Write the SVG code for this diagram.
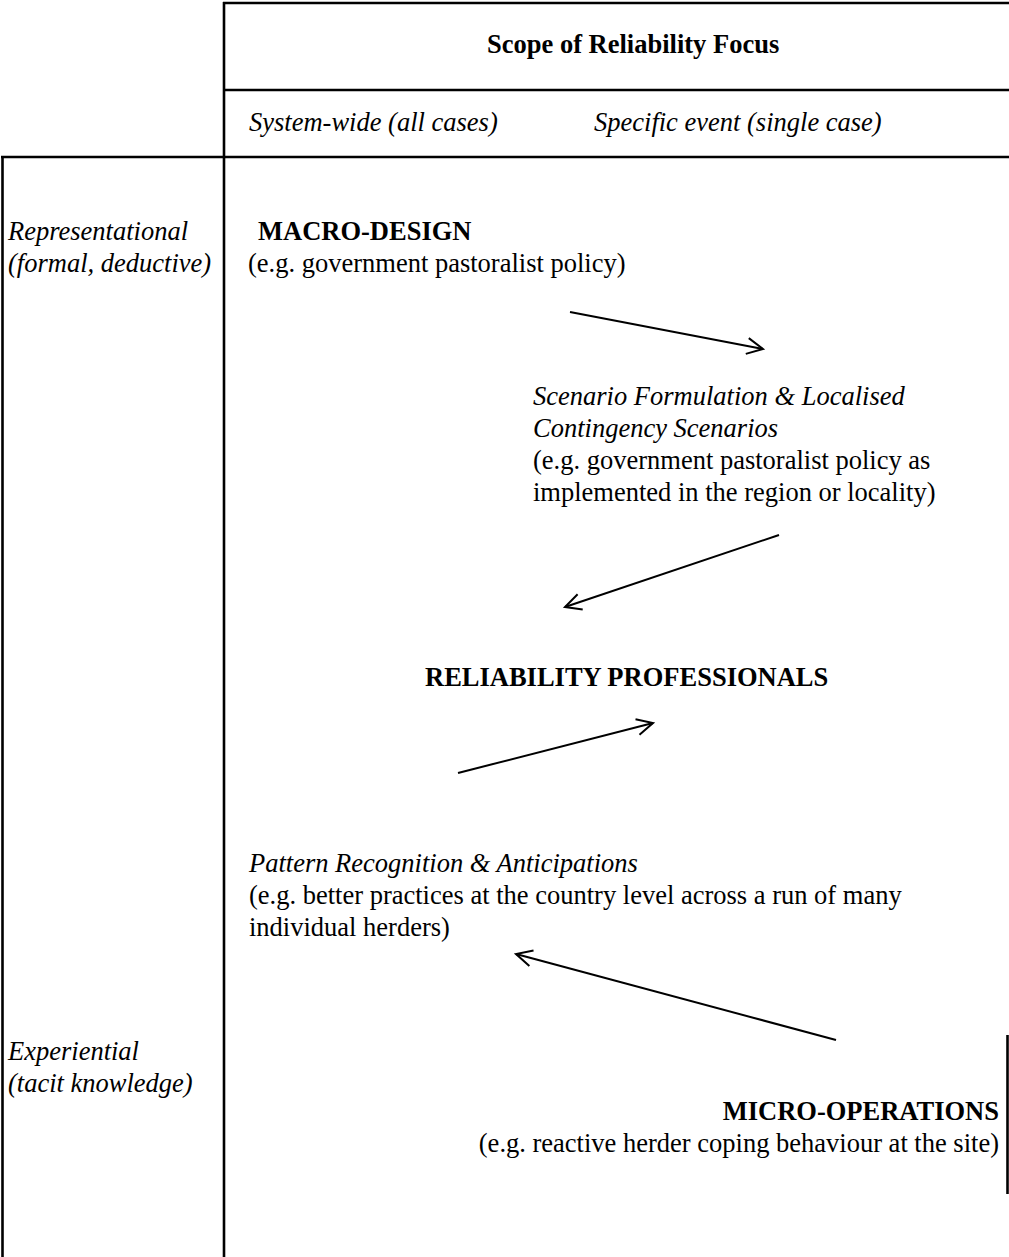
<svg xmlns="http://www.w3.org/2000/svg" width="1009" height="1257" viewBox="0 0 1009 1257">
<style>
text{font-family:"Liberation Serif","Times New Roman",serif;font-size:26.5px;fill:#000}
.b{font-weight:bold}
.i{font-style:italic}
.grid line{stroke:#000;stroke-width:2.6}
.conn line{stroke:#000;stroke-width:2;fill:none}
</style>
<defs>
<marker id="ah" markerWidth="22" markerHeight="22" refX="17" refY="9" orient="auto" markerUnits="userSpaceOnUse">
<path d="M1,1 L17,9 L1,17" fill="none" stroke="#000" stroke-width="2"/>
</marker>
</defs>
<g class="grid" id="table">
<line x1="224" y1="2" x2="224" y2="1257"/>
<line x1="223" y1="3" x2="1009" y2="3"/>
<line x1="224" y1="90" x2="1009" y2="90"/>
<line x1="1" y1="157" x2="1009" y2="157"/>
<line x1="2.5" y1="156" x2="2.5" y2="1257"/>
<line x1="1007.5" y1="1035" x2="1007.5" y2="1194"/>
</g>
<g id="header">
<text class="b" x="487" y="53">Scope of Reliability Focus</text>
<text class="i" x="249" y="131">System-wide (all cases)</text>
<text class="i" x="594" y="131">Specific event (single case)</text>
</g>
<g id="row-labels">
<text class="i" x="8" y="240">Representational</text>
<text class="i" x="8" y="272">(formal, deductive)</text>
<text class="i" x="8" y="1060">Experiential</text>
<text class="i" x="8" y="1092">(tacit knowledge)</text>
</g>
<g id="macro-design">
<text class="b" x="258" y="240">MACRO-DESIGN</text>
<text x="248" y="272">(e.g. government pastoralist policy)</text>
</g>
<g id="scenario">
<text class="i" x="533" y="405">Scenario Formulation &amp; Localised</text>
<text class="i" x="533" y="437">Contingency Scenarios</text>
<text x="533" y="469">(e.g. government pastoralist policy as</text>
<text x="533" y="501">implemented in the region or locality)</text>
</g>
<g id="professionals">
<text class="b" x="425" y="686">RELIABILITY PROFESSIONALS</text>
</g>
<g id="pattern">
<text class="i" x="249" y="872">Pattern Recognition &amp; Anticipations</text>
<text x="249" y="904">(e.g. better practices at the country level across a run of many</text>
<text x="249" y="936">individual herders)</text>
</g>
<g id="micro-operations">
<text class="b" x="999" y="1120" text-anchor="end">MICRO-OPERATIONS</text>
<text x="999" y="1152" text-anchor="end">(e.g. reactive herder coping behaviour at the site)</text>
</g>
<g class="conn" id="connectors">
<line x1="570" y1="312" x2="763" y2="349" marker-end="url(#ah)"/>
<line x1="779" y1="535" x2="565" y2="607" marker-end="url(#ah)"/>
<line x1="458" y1="773" x2="653" y2="723" marker-end="url(#ah)"/>
<line x1="836" y1="1040" x2="516" y2="954" marker-end="url(#ah)"/>
</g>
</svg>
